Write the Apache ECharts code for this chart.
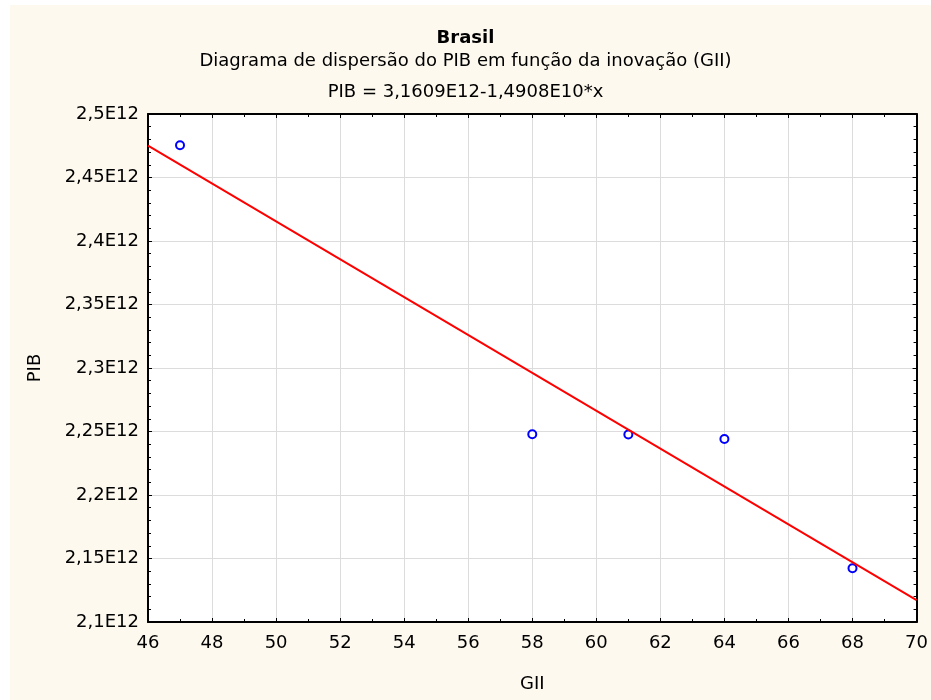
<!DOCTYPE html>
<html>
<head>
<meta charset="utf-8">
<script src="https://cdn.jsdelivr.net/npm/echarts@6/dist/echarts.min.js"></script>
<style>html,body{margin:0;padding:0;background:#fff}#c{width:931px;height:700px}</style>
</head>
<body>
<div id="c"></div>
<script>
// Data
var gii = [47, 58, 61, 64, 68];
var pib = [2.4754e12, 2.2478e12, 2.2477e12, 2.2441e12, 2.1423e12];
var fitX = [46, 70];
var fitY = [2.4751e12, 2.1173e12];
var titleText = 'Brasil';
var subtitleText = 'Diagrama de dispersão do PIB em função da inovação (GII)';
var equationText = 'PIB = 3,1609E12-1,4908E10*x';
var xName = 'GII';
var yName = 'PIB';

var FONT = 'DejaVu Sans';
var FS = 18;

function yFmt(v) {
  var s = (Math.round(v / 1e10) / 100).toString().replace('.', ',');
  return s + 'E12';
}

var scatterData = gii.map(function (x, i) { return [x, pib[i]]; });
var fitData = fitX.map(function (x, i) { return [x, fitY[i]]; });

var chart = echarts.init(document.getElementById('c'), null, {renderer: 'canvas'});
var tickCommon = {show: true, inside: true, length: 4, lineStyle: {color: '#000', width: 1}};
var minorCommon = {show: true, length: 3, lineStyle: {color: '#000', width: 1}};

chart.setOption({
  backgroundColor: '#ffffff',
  animation: false,
  graphic: [{
    type: 'rect', z: -10, silent: true,
    shape: {x: 10, y: 5, width: 921, height: 695},
    style: {fill: '#fdf9ee'}
  }],
  title: [
    {text: titleText, left: 'center', top: 28, padding: 0,
     textStyle: {fontFamily: FONT, fontSize: FS, fontWeight: 'bold', color: '#000', lineHeight: 20}},
    {text: subtitleText, left: 'center', top: 51, padding: 0,
     textStyle: {fontFamily: FONT, fontSize: FS, fontWeight: 'normal', color: '#000', lineHeight: 20}},
    {text: equationText, left: 'center', top: 82, padding: 0,
     textStyle: {fontFamily: FONT, fontSize: FS, fontWeight: 'normal', color: '#000', lineHeight: 20}}
  ],
  grid: {left: 148, right: 6, top: 114, bottom: 78, show: true, backgroundColor: '#ffffff', borderWidth: 0},
  xAxis: [{
    type: 'value', min: 46, max: 70, interval: 2, position: 'bottom',
    name: xName, nameLocation: 'middle', nameGap: 53,
    nameTextStyle: {fontFamily: FONT, fontSize: FS, color: '#000'},
    axisLine: {show: true, onZero: false, lineStyle: {color: '#000', width: 2}},
    axisTick: tickCommon,
    minorTick: Object.assign({splitNumber: 2}, minorCommon),
    splitLine: {show: true, lineStyle: {color: '#dcdcdc', width: 1}},
    axisLabel: {fontFamily: FONT, fontSize: FS, color: '#000', margin: 12, showMinLabel: true, showMaxLabel: true}
  }, {
    type: 'value', min: 46, max: 70, interval: 2, position: 'top',
    axisLine: {show: true, onZero: false, lineStyle: {color: '#000', width: 2}},
    axisTick: tickCommon,
    minorTick: Object.assign({splitNumber: 2}, minorCommon),
    splitLine: {show: false},
    axisLabel: {show: false}
  }],
  yAxis: [{
    type: 'value', min: 2.1e12, max: 2.5e12, interval: 5e10, position: 'left',
    name: yName, nameLocation: 'middle', nameGap: 104, nameRotate: 90,
    nameTextStyle: {fontFamily: FONT, fontSize: FS, color: '#000'},
    axisLine: {show: true, onZero: false, lineStyle: {color: '#000', width: 2}},
    axisTick: tickCommon,
    minorTick: Object.assign({splitNumber: 5}, minorCommon),
    splitLine: {show: true, lineStyle: {color: '#dcdcdc', width: 1}},
    axisLabel: {fontFamily: FONT, fontSize: FS, color: '#000', margin: 9, formatter: yFmt}
  }, {
    type: 'value', min: 2.1e12, max: 2.5e12, interval: 5e10, position: 'right',
    axisLine: {show: true, onZero: false, lineStyle: {color: '#000', width: 2}},
    axisTick: tickCommon,
    minorTick: Object.assign({splitNumber: 5}, minorCommon),
    splitLine: {show: false},
    axisLabel: {show: false}
  }],
  series: [{
    type: 'scatter', xAxisIndex: 0, yAxisIndex: 0, z: 2,
    data: scatterData,
    symbol: 'circle', symbolSize: 8,
    itemStyle: {color: '#ffffff', borderColor: '#0000ff', borderWidth: 2, opacity: 1}
  }, {
    type: 'line', xAxisIndex: 0, yAxisIndex: 0, z: 3,
    data: fitData, showSymbol: false, symbol: 'none',
    lineStyle: {color: '#ff0000', width: 2}
  }]
});
</script>
</body>
</html>
